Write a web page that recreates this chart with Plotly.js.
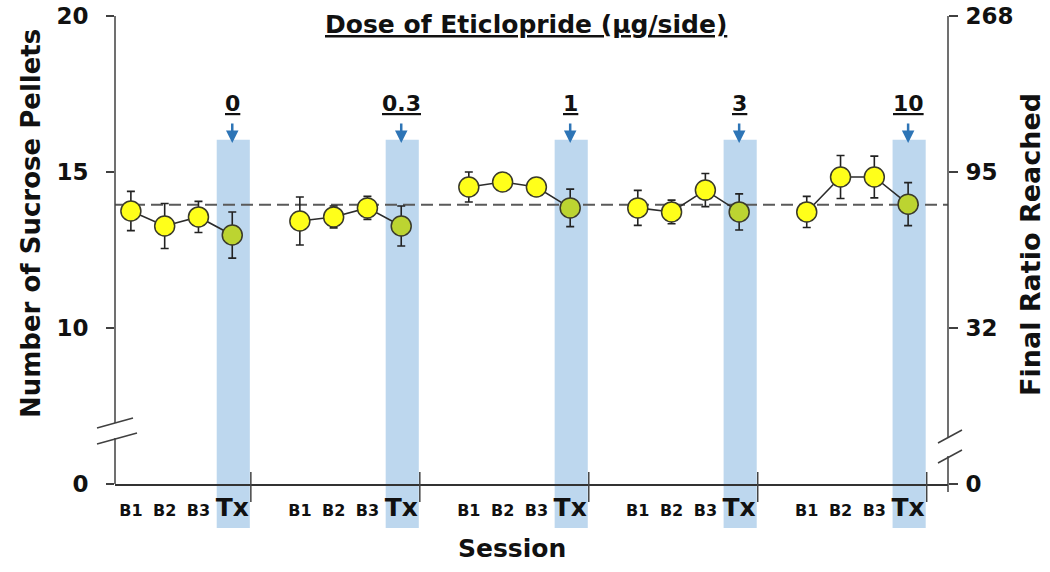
<!DOCTYPE html>
<html><head><meta charset="utf-8">
<script src="https://cdn.plot.ly/plotly-3.0.1.min.js"></script>
<style>html,body{margin:0;padding:0;background:#fff;}#chart{width:1050px;height:572px;}</style>
</head><body><div id="chart"></div>
<script>
// ---- data ----
const sessionLabels = ['B1', 'B2', 'B3', 'Tx'];
const doses = ['0', '0.3', '1', '3', '10'];
const pelletsDose0 = [13.75, 13.27, 13.56, 12.98];
const semDose0 = [0.63, 0.72, 0.50, 0.74];
const pelletsDose03 = [13.43, 13.56, 13.85, 13.27];
const semDose03 = [0.77, 0.35, 0.37, 0.64];
const pelletsDose1 = [14.52, 14.68, 14.52, 13.85];
const semDose1 = [0.48, 0.20, 0.20, 0.60];
const pelletsDose3 = [13.85, 13.72, 14.42, 13.72];
const semDose3 = [0.56, 0.38, 0.53, 0.58];
const pelletsDose10 = [13.72, 14.84, 14.84, 13.97];
const semDose10 = [0.50, 0.69, 0.67, 0.69];
const baselineMean = 13.95;
// axis (left axis is broken: "0" is drawn at the position of 5)
const leftTickPos = [5, 10, 15, 20];
const leftTickText = ['0', '10', '15', '20'];
const rightTickText = ['0', '32', '95', '268'];
const bandTop = 16.03;

const pellets = [pelletsDose0, pelletsDose03, pelletsDose1, pelletsDose3, pelletsDose10];
const sems = [semDose0, semDose03, semDose1, semDose3, semDose10];

// ---- layout helpers ----
const W = 1050, H = 572;
const M = {l: 115, r: 102, t: 16, b: 88};
const PW = W - M.l - M.r, PH = H - M.t - M.b;
const px = p => (p - M.l) / PW;          // pixel x -> paper
const py = p => (H - M.b - p) / PH;      // pixel y -> paper
const FONT = 'DejaVu Sans, Liberation Sans, Arial, sans-serif';
const pos = (g, s) => g * 5 + s + 1;

const traces = [];
const tickvals = [], ticktext = [];
doses.forEach((d, g) => {
  const xs = sessionLabels.map((s, i) => pos(g, i));
  sessionLabels.forEach((s, i) => {
    tickvals.push(pos(g, i));
    ticktext.push(s === 'Tx' ? '<span style="font-size:25px">Tx</span>' : s);
  });
  traces.push({
    type: 'scatter', mode: 'lines+markers', name: 'Dose ' + d,
    x: xs, y: pellets[g],
    error_y: {type: 'data', array: sems[g], visible: true, color: '#222', thickness: 1.6, width: 4},
    line: {color: '#2b2b2b', width: 1.6},
    marker: {size: 20, color: sessionLabels.map(s => s === 'Tx' ? '#BCD431' : '#FFFF1A'),
             line: {color: '#3a3a2a', width: 1.5}},
    showlegend: false, cliponaxis: false, hoverinfo: 'x+y'
  });
});
traces.push({type: 'scatter', x: [], y: [], yaxis: 'y2', showlegend: false});

const shapes = [];
const annotations = [];
doses.forEach((d, g) => {
  const tx = pos(g, 3);
  shapes.push({type: 'rect', xref: 'x', yref: 'paper', x0: tx - 0.46, x1: tx + 0.52,
    y0: py(528), y1: (bandTop - 5) / 15, fillcolor: '#BDD7EE', line: {width: 0}, layer: 'below'});
  shapes.push({type: 'line', xref: 'x', yref: 'paper', x0: tx + 0.55, x1: tx + 0.55,
    y0: py(502), y1: py(472), line: {color: '#444', width: 1.5}});
  annotations.push({xref: 'x', yref: 'paper', x: tx, y: py(103), text: d, showarrow: false,
    xanchor: 'center', yanchor: 'middle',
    font: {family: FONT, size: 22, color: '#111', weight: 'bold', lineposition: 'under'}});
  annotations.push({xref: 'x', yref: 'paper', x: tx, y: py(143), text: '', showarrow: true,
    ax: 0, ay: -21, arrowhead: 2, arrowsize: 1, arrowwidth: 2.5, arrowcolor: '#2E75B6'});
});
// baseline reference
shapes.push({type: 'line', xref: 'paper', yref: 'y', x0: 0, x1: 1, y0: baselineMean, y1: baselineMean,
  line: {color: '#5a5a5a', width: 2, dash: '12px,6px'}, layer: 'below'});
// axis lines with breaks
const axc = {color: '#404040', width: 1.5};
shapes.push({type: 'line', xref: 'paper', yref: 'paper', x0: 0, x1: 0, y0: 1, y1: py(423), line: axc});
shapes.push({type: 'line', xref: 'paper', yref: 'paper', x0: 0, x1: 0, y0: py(438), y1: 0, line: axc});
shapes.push({type: 'line', xref: 'paper', yref: 'paper', x0: px(97), x1: px(133), y0: py(428), y1: py(418), line: axc});
shapes.push({type: 'line', xref: 'paper', yref: 'paper', x0: px(97), x1: px(137), y0: py(444), y1: py(433), line: axc});
shapes.push({type: 'line', xref: 'paper', yref: 'paper', x0: 1, x1: 1, y0: 1, y1: py(437), line: axc});
shapes.push({type: 'line', xref: 'paper', yref: 'paper', x0: 1, x1: 1, y0: py(456), y1: py(492), line: axc});
shapes.push({type: 'line', xref: 'paper', yref: 'paper', x0: px(938), x1: px(962), y0: py(443), y1: py(430), line: axc});
shapes.push({type: 'line', xref: 'paper', yref: 'paper', x0: px(938), x1: px(962), y0: py(463), y1: py(450), line: axc});

// titles
annotations.push({xref: 'paper', yref: 'paper', x: px(526), y: py(24), xanchor: 'center', yanchor: 'middle', showarrow: false,
  text: 'Dose of Eticlopride (µg/side)', font: {family: FONT, size: 25, color: '#111', weight: 'bold', lineposition: 'under'}});
annotations.push({xref: 'paper', yref: 'paper', x: px(31), y: py(224), xanchor: 'center', yanchor: 'middle', textangle: -90, showarrow: false,
  text: 'Number of Sucrose Pellets', font: {family: FONT, size: 26, color: '#111', weight: 'bold'}});
annotations.push({xref: 'paper', yref: 'paper', x: px(1030), y: py(245), xanchor: 'center', yanchor: 'middle', textangle: -90, showarrow: false,
  text: 'Final Ratio Reached', font: {family: FONT, size: 27, color: '#111', weight: 'bold'}});
annotations.push({xref: 'paper', yref: 'paper', x: px(512), y: py(548), xanchor: 'center', yanchor: 'middle', showarrow: false,
  text: 'Session', font: {family: FONT, size: 25, color: '#111', weight: 'bold'}});

const tickFont = {family: FONT, size: 23, color: '#111', weight: 'bold'};
const layout = {
  width: W, height: H, margin: M, paper_bgcolor: '#fff', plot_bgcolor: 'rgba(0,0,0,0)',
  font: {family: FONT, color: '#111'},
  showlegend: false,
  xaxis: {range: [0.53, 25.18], showline: true, linecolor: '#333', linewidth: 2, ticks: '',
    tickmode: 'array', tickvals: tickvals, ticktext: ticktext, tickangle: 0,
    tickfont: {family: FONT, size: 16, color: '#111', weight: 'bold'}, ticklabelstandoff: 11,
    showgrid: false, zeroline: false, fixedrange: true},
  yaxis: {range: [5, 20], showline: false, ticks: 'outside', ticklen: 8, tickwidth: 1.5, tickcolor: '#404040',
    tickmode: 'array', tickvals: leftTickPos, ticktext: leftTickText, tickfont: tickFont, ticklabelstandoff: 13,
    showgrid: false, zeroline: false, fixedrange: true},
  yaxis2: {overlaying: 'y', side: 'right', range: [5, 20], showline: false, ticks: 'outside', ticklen: 9,
    tickwidth: 1.5, tickcolor: '#404040', tickmode: 'array', tickvals: leftTickPos, ticktext: rightTickText,
    tickfont: tickFont, ticklabelstandoff: 3, showgrid: false, zeroline: false, fixedrange: true},
  shapes: shapes, annotations: annotations
};
Plotly.newPlot('chart', traces, layout, {displayModeBar: false, staticPlot: true});
</script></body></html>
